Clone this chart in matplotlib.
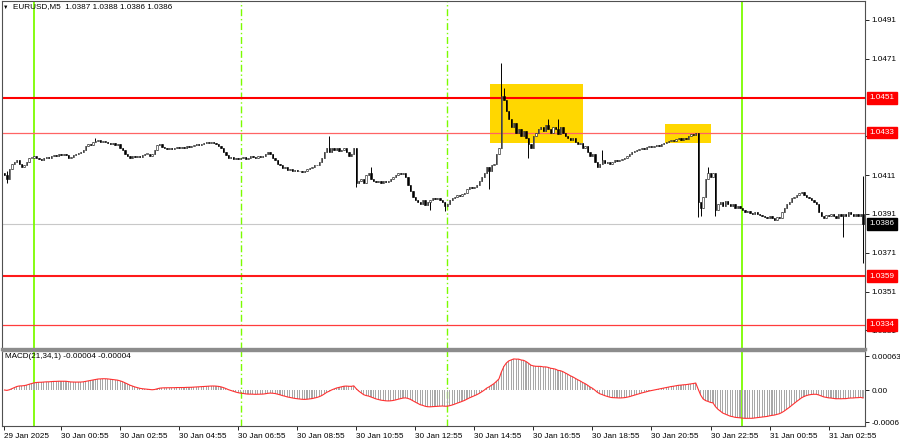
import numpy as np
import pandas as pd
import matplotlib
matplotlib.use('Agg')
import matplotlib.pyplot as plt

plt.rcParams['font.family'] = ['Liberation Sans', 'DejaVu Sans']

symbol_text = 'EURUSD,M5  1.0387 1.0388 1.0386 1.0386'
macd_text = 'MACD(21,34,1) -0.00004 -0.00004'

# closes in pips above 1.0400, one row per hour of M5 bars (from 29 Jan 23:00)
base_price = 1.0400
first_open_pips = 12
close_pips = [
    11, 9, 14, 17, 18, 19, 17, 15, 16, 18, 20, 20,
    21, 20, 19.5, 19, 20, 20.5, 20, 21, 21.5, 21, 22, 21.5,
    22, 21.5, 20, 20.5, 21.5, 22, 22.5, 23, 24, 26, 27, 26.5,
    28, 28.5, 29, 28, 28.5, 28, 27.5, 27, 27.5, 26.5, 27, 25,
    24, 22, 21, 20, 21, 20.5, 21, 20.5, 21.5, 22, 22, 21,
    22, 24, 26.5, 27, 25.5, 25, 24.5, 25, 24.5, 25, 25.5, 25,
    25.5, 25, 26, 25.5, 26, 26.5, 27, 26.5, 27, 27.5, 28, 27.5,
    28, 27.5, 27, 26, 25, 23, 21.5, 20, 20.5, 19.5, 20, 19.5,
    20, 20.5, 19.5, 20, 21, 20.5, 20, 21, 20.5, 21, 22, 23,
    22, 20, 19, 17, 16, 14.5, 15, 13.5, 14, 13, 13.5, 13,
    13, 12.5, 13, 14, 14.5, 15, 16, 16.5, 18, 20, 23, 25,
    23, 25, 24, 25, 23.5, 24, 25, 23, 21, 22, 25, 7,
    8, 9, 7, 11, 12, 9, 8, 7.5, 8, 7, 8, 7.5,
    8, 9, 10, 11, 12, 11.5, 12, 10, 6, 3, 0, -2,
    -3, -4, -2, -4.5, -3, -2, -1, -1.5, -1, -2, -3, -5,
    -4, -2, -1, 0, 1, 0.5, 1.5, 2, 4, 5, 4.5, 5,
    6, 8, 10, 12, 15, 13, 16, 17, 22, 25, 52, 50,
    44, 40, 36, 38, 33, 35, 31, 34, 30, 27, 25, 31,
    33, 35, 36, 34, 37, 35, 33, 36, 35, 32, 36, 33,
    31, 30, 29, 30, 28, 27, 27.5, 25, 26, 23, 21, 22,
    18, 15, 17, 19, 17.5, 18, 17, 18, 19, 18.5, 19, 19.5,
    20, 21, 22, 23, 23.5, 24, 24.5, 25, 24.5, 25.5, 26, 25.5,
    26, 26.5, 26, 27, 27.5, 28, 28.5, 29, 28.5, 29.5, 30, 29,
    30, 29.5, 31, 32, 31.5, 33, -3, -6, 0, 9, 12, 10,
    12, -7, -4, -3, -5, -2.5, -4, -5, -4, -6, -5, -6,
    -7, -8, -7.5, -8.5, -9, -8, -9, -9.5, -10, -10.5, -11, -10,
    -11, -12, -10.5, -11, -8, -6, -4, -3, -1, 0, 1, 2,
    2.5, 1, 0, -1, -2, -3, -4, -8, -10, -11, -9.5, -10,
    -9, -10, -11, -9, -10, -9, -10, -8, -9, -10, -9, -10, -9, -14,
]
# long wicks (bar index: pips)
wick_hi = {1: 13, 37: 30, 132: 31, 149: 15, 202: 69, 203: 56, 204: 50,
           221: 40, 225: 40, 243: 24, 286: 15, 349: 10.6}
wick_lo = {1: 7, 143: 5, 173: -7, 179: -7.5, 197: 4, 202: 25, 213: 20,
           282: -10.5, 283: -10, 289: -10, 341: -21, 349: -34.3}

level_prices = [1.0451, 1.0433, 1.0359, 1.0334]
level_widths = [1.5, 0.9, 1.5, 0.9]
level_colors = ['#ff0000', '#ff6464', '#ff1a1a', '#ff3c3c']
bid_price = 1.0386

price_ticks = [1.0331, 1.0351, 1.0371, 1.0391, 1.0411, 1.0431, 1.0471, 1.0491]
macd_ticks = [0.00063, 0.0, -0.0006]
macd_tick_labels = ['0.00063', '0.00', '-0.0006']

day_bars = [12, 300]
session_bars = [96, 180]

zone_start = [197.4, 268.5]
zone_end = [235.2, 287.4]
zone_top = [1.04580, 1.04374]
zone_bottom = [1.04276, 1.04276]

time_tick_bars = [0, 23, 47, 71, 95, 119, 143, 167, 191, 215, 239, 263, 287, 311, 335]
time_labels = ['29 Jan 2025', '30 Jan 00:55', '30 Jan 02:55', '30 Jan 04:55', '30 Jan 06:55',
               '30 Jan 08:55', '30 Jan 10:55', '30 Jan 12:55', '30 Jan 14:55', '30 Jan 16:55',
               '30 Jan 18:55', '30 Jan 20:55', '30 Jan 22:55', '31 Jan 00:55', '31 Jan 02:55']

fs = 5.9
green = '#7cfc00'

closes = base_price + np.array(close_pips) / 10000.0
opens = np.concatenate([[base_price + first_open_pips / 10000.0], closes[:-1]])
highs = np.maximum(opens, closes)
lows = np.minimum(opens, closes)
for k, v in wick_hi.items():
    highs[k] = base_price + v / 10000.0
for k, v in wick_lo.items():
    lows[k] = base_price + v / 10000.0
x = np.arange(len(closes))

s = pd.Series(closes)
macd = (s.ewm(span=21, adjust=False).mean() - s.ewm(span=34, adjust=False).mean()).values

fig = plt.figure(figsize=(9, 4.41), dpi=100)
ax = fig.add_axes([2 / 900, 1 - 349 / 441, 863 / 900, 348 / 441])
ax2 = fig.add_axes([2 / 900, 1 - 426 / 441, 863 / 900, 75 / 441])

# zones
for x0, x1, top, bot in zip(zone_start, zone_end, zone_top, zone_bottom):
    ax.fill_between([x0, x1], bot, top, color='#ffd700', lw=0, zorder=1)

for p, w, c in zip(level_prices, level_widths, level_colors):
    ax.axhline(p, color=c, lw=w, zorder=2)
ax.axhline(bid_price, color='#c8c8c8', lw=0.8, zorder=1.5)

for a in (ax, ax2):
    for b in day_bars:
        a.axvline(b, color=green, lw=1.3, zorder=1.8)
    for b in session_bars:
        a.axvline(b, color=green, lw=1.0, ls=(0, (5, 2, 1, 2)), zorder=1.8)

# candles
ax.vlines(x, lows, highs, color='black', lw=0.7, zorder=3)
up = closes >= opens
body = np.maximum(np.abs(closes - opens), 0.00003)
bottom = np.minimum(opens, closes)
ax.bar(x[up], body[up], bottom=bottom[up], width=0.55, facecolor='white',
       edgecolor='#101010', lw=0.4, zorder=4)
ax.bar(x[~up], body[~up], bottom=bottom[~up], width=0.55, facecolor='black',
       edgecolor='black', lw=0.4, zorder=4)

ax.set_xlim(-1.0, 349.8)
ax.set_ylim(1.032141, 1.050079)
ax.set_xticks([])
ax.yaxis.tick_right()
ax.set_yticks(price_ticks)
ax.set_yticklabels(['%.4f' % p for p in price_ticks])
ax.tick_params(axis='y', labelsize=fs, length=3, width=0.6, pad=1.5, colors='black')

for p in level_prices:
    ax.annotate('%.4f' % p, xy=(1.0, p), xycoords=('axes fraction', 'data'),
                xytext=(3, 0), textcoords='offset points', va='center', ha='left',
                fontsize=fs, color='white', annotation_clip=False, zorder=10,
                bbox=dict(boxstyle='square,pad=0.3', fc='#ff0000', ec='#ff0000'))
ax.annotate('%.4f' % bid_price, xy=(1.0, bid_price), xycoords=('axes fraction', 'data'),
            xytext=(3, 0), textcoords='offset points', va='center', ha='left',
            fontsize=fs, color='white', annotation_clip=False, zorder=10,
            bbox=dict(boxstyle='square,pad=0.3', fc='black', ec='black'))

# MACD panel
ax2.bar(x, macd, width=0.45, color='#a8a8a8', zorder=2)
ax2.plot(x, macd, color='#ff3030', lw=0.8, zorder=3)
ax2.set_xlim(-1.0, 349.8)
ax2.set_ylim(-0.000667, 0.000723)
ax2.yaxis.tick_right()
ax2.set_yticks(macd_ticks)
ax2.set_yticklabels(macd_tick_labels)
ax2.tick_params(axis='y', labelsize=fs, length=3, width=0.6, pad=1.5)
ax2.set_xticks(time_tick_bars)
ax2.set_xticklabels(time_labels, ha='left')
ax2.tick_params(axis='x', labelsize=fs, length=3, width=0.6, pad=2)

for a in (ax, ax2):
    for sp in a.spines.values():
        sp.set_color('#505050')
        sp.set_linewidth(0.8)
ax.spines['bottom'].set_color('#8c8c8c')
ax.spines['bottom'].set_linewidth(2.4)
ax2.spines['top'].set_color('#8c8c8c')
ax2.spines['top'].set_linewidth(1.0)

fig.text(6 / 900, 1 - 7 / 441, '\u25bc', fontsize=4, va='center', ha='center')
fig.text(13 / 900, 1 - 7 / 441, symbol_text, fontsize=fs, va='center', ha='left')
fig.text(5 / 900, 1 - 357 / 441, macd_text, fontsize=fs, va='center', ha='left')

fig.savefig('out.png', dpi=100)
